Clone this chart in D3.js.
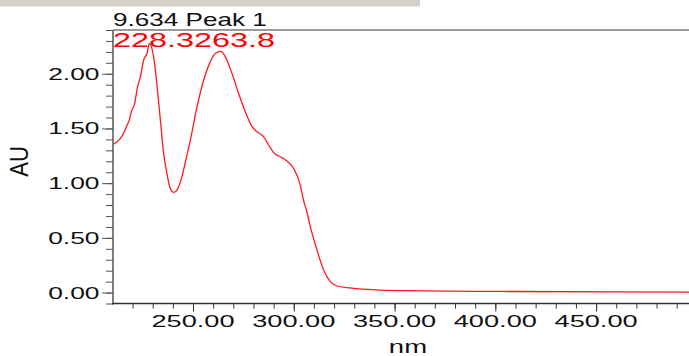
<!DOCTYPE html>
<html lang="en">
<head>
  <meta charset="UTF-8" />
  <title>PDA spectrum</title>
  <style>
    body { margin: 0; background: white; }
    svg { display: block; font-family: "Liberation Sans", Arial, sans-serif; }
  </style>
</head>
<body>
  <svg id="spectrum" width="689" height="356"></svg>

  <script src="https://d3js.org/d3.v7.min.js"></script>
  <script>
    // spectrum (nm, AU)
    const wavelength = [210.5, 214.0, 215.6, 217.3, 218.4, 219.4, 221.0, 222.5, 223.9, 225.5, 227.2, 228.3,
      230.5, 232.1, 233.8, 235.4, 237.2, 238.7, 240.5, 242.1, 244.5, 245.3, 248.7, 252.0, 255.3, 258.6,
      261.1, 263.8, 266.0, 269.3, 272.6, 275.9, 279.3, 281.7, 285.0, 287.5, 290.0, 293.3, 296.6, 299.9,
      303.2, 304.8, 306.5, 308.2, 311.5, 314.8, 318.1, 321.5, 326.4, 352.8, 402.4, 496.1];
    const absorbance = [1.356, 1.410, 1.456, 1.532, 1.578, 1.654, 1.724, 1.882, 1.973, 2.126, 2.187, 2.275,
      2.15, 1.90, 1.578, 1.276, 1.075, 0.953, 0.915, 0.938, 1.059, 1.12, 1.395, 1.699, 1.943, 2.111,
      2.187, 2.204, 2.156, 2.005, 1.822, 1.654, 1.516, 1.471, 1.425, 1.349, 1.279, 1.242, 1.203, 1.136,
      0.984, 0.846, 0.737, 0.602, 0.389, 0.207, 0.100, 0.060, 0.045, 0.017, 0.010, 0.004];

    const xTicks = [250, 300, 350, 400, 450];
    const yTicks = [0, 0.5, 1.0, 1.5, 2.0];
    const titleText = "9.634 Peak 1";
    const peakText = "228.3263.8";

    const svg = d3.select("#spectrum");

    // grey strip at the very top
    svg.append("rect").attr("x", 0).attr("y", 0).attr("width", 420).attr("height", 6).attr("fill", "#d4d0c8");
    svg.append("rect").attr("x", 0).attr("y", 6).attr("width", 420).attr("height", 1).attr("fill", "#ece9e3");

    const x = d3.scaleLinear().domain([210.3, 496.1]).range([113, 689]);
    const y = d3.scaleLinear().domain([-0.1, 2.4]).range([303.5, 30]);

    // top frame line
    svg.append("line")
      .attr("x1", 113).attr("x2", 689).attr("y1", 30).attr("y2", 30)
      .attr("stroke", "#9a9a9a").attr("stroke-width", 2);

    // y axis: minor ticks every 0.1, major every 0.5
    const yMinor = d3.range(-0.1, 2.41, 0.1).map(v => +v.toFixed(2));
    svg.append("g").attr("transform", "translate(113,0)")
      .call(d3.axisLeft(y).tickValues(yMinor).tickSize(7).tickSizeOuter(0).tickFormat(""))
      .call(g => g.select(".domain").remove())
      .call(g => g.selectAll("line").attr("stroke", "#555"));
    svg.append("g").attr("transform", "translate(113,0)")
      .call(d3.axisLeft(y).tickValues(yTicks).tickSize(11).tickSizeOuter(0).tickFormat(""))
      .call(g => g.select(".domain").remove())
      .call(g => g.selectAll("line").attr("stroke", "#555"));

    // x axis: minor every 10 nm, major every 50
    const xMinor = d3.range(220, 495, 10);
    svg.append("g").attr("transform", "translate(0,303.5)")
      .call(d3.axisBottom(x).tickValues(xMinor).tickSize(5).tickSizeOuter(0).tickFormat(""))
      .call(g => g.select(".domain").remove())
      .call(g => g.selectAll("line").attr("stroke", "#333"));
    svg.append("g").attr("transform", "translate(0,303.5)")
      .call(d3.axisBottom(x).tickValues(xTicks).tickSize(8).tickSizeOuter(0).tickFormat(""))
      .call(g => g.select(".domain").remove())
      .call(g => g.selectAll("line").attr("stroke", "#333"));

    // axis lines
    svg.append("line").attr("x1", 113).attr("x2", 113).attr("y1", 30).attr("y2", 304.5)
      .attr("stroke", "#555").attr("stroke-width", 1.5);
    svg.append("line").attr("x1", 112).attr("x2", 689).attr("y1", 303.5).attr("y2", 303.5)
      .attr("stroke", "#333").attr("stroke-width", 1.5);

    // tick labels (the original font is stretched sideways)
    const sx = 1.6;
    svg.selectAll(".ylab").data(yTicks).enter().append("text")
      .attr("class", "ylab")
      .attr("transform", d => `translate(99.5,${y(d) + 6}) scale(${sx},1)`)
      .attr("text-anchor", "end")
      .attr("font-size", 16.5)
      .attr("fill", "#111")
      .text(d => d.toFixed(2));

    svg.selectAll(".xlab").data(xTicks).enter().append("text")
      .attr("class", "xlab")
      .attr("transform", d => `translate(${x(d)},327.3) scale(${sx},1)`)
      .attr("text-anchor", "middle")
      .attr("font-size", 17)
      .attr("fill", "#111")
      .text(d => d.toFixed(2));

    // axis titles
    svg.append("text")
      .attr("transform", "translate(28,161.5) rotate(-90) scale(1,1.16)")
      .attr("text-anchor", "middle")
      .attr("font-size", 22)
      .attr("fill", "#111")
      .text("AU");

    svg.append("text")
      .attr("transform", "translate(408,353) scale(1.45,1)")
      .attr("text-anchor", "middle")
      .attr("font-size", 19)
      .attr("fill", "#111")
      .text("nm");

    // curve
    const pts = wavelength.map((w, i) => [w, absorbance[i]]);
    const line = d3.line()
      .x(d => x(d[0]))
      .y(d => y(d[1]))
      .curve(d3.curveMonotoneX);

    svg.append("path")
      .datum(pts)
      .attr("d", line)
      .attr("fill", "none")
      .attr("stroke", "#ff1a1a")
      .attr("stroke-width", 1.3);

    // header texts
    svg.append("text")
      .attr("transform", "translate(113,26) scale(1.41,1)")
      .attr("font-size", 18.5)
      .attr("fill", "#111")
      .text(titleText);

    svg.append("text")
      .attr("transform", "translate(113,46.7) scale(1.62,1)")
      .attr("font-size", 20)
      .attr("fill", "#ff0000")
      .text(peakText);
  </script>
</body>
</html>
